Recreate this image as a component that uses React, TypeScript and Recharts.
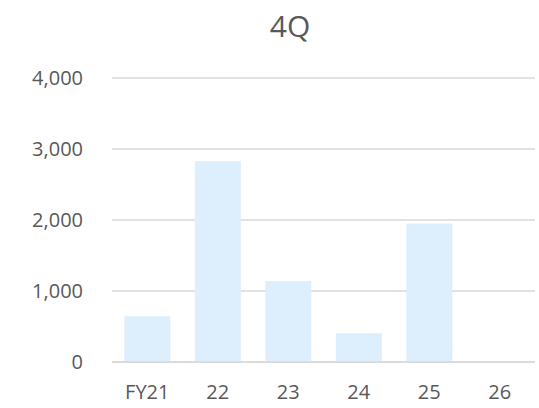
import React from "react";
import { BarChart, Bar, XAxis, YAxis, CartesianGrid } from "recharts";

const categories = ["FY21", "22", "23", "24", "25", "26"];
const values = [645, 2830, 1140, 405, 1950, 0];
const yTicks = [0, 1000, 2000, 3000, 4000];
const title = "4Q";

const data = categories.map((c, i) => ({ name: c, value: values[i] }));

const FONT = "'Open Sans', 'Noto Sans', sans-serif";
const TEXT = "#595959";

export default function App() {
  return (
    <div style={{ position: "absolute", left: 0, top: 0, width: 539, height: 408, background: "#fff" }}>
      <div
        style={{
          position: "absolute",
          left: 0,
          width: 580,
          top: 6,
          textAlign: "center",
          fontFamily: FONT,
          fontSize: 30,
          color: TEXT,
          lineHeight: "40px",
        }}
      >
        {title}
      </div>
      <BarChart
        width={539}
        height={408}
        data={data}
        margin={{ top: 78, right: 4, bottom: 16, left: 0 }}
        barCategoryGap="17.5%"
      >
        <CartesianGrid vertical={false} stroke="#d9d9d9" strokeWidth={1.3} />
        <XAxis
          dataKey="name"
          height={30}
          tickLine={false}
          axisLine={{ stroke: "#d9d9d9", strokeWidth: 1.3 }}
          tickSize={0}
          tickMargin={23}
          tick={{ fill: TEXT, fontSize: 20, fontFamily: FONT }}
          interval={0}
        />
        <YAxis
          width={112}
          domain={[0, 4000]}
          ticks={yTicks}
          tickLine={false}
          axisLine={false}
          tickSize={0}
          tickMargin={29}
          tickFormatter={(v: number) => v.toLocaleString("en-US")}
          tick={{ fill: TEXT, fontSize: 20, fontFamily: FONT }}
        />
        <Bar dataKey="value" fill="#DDEFFC" isAnimationActive={false} />
      </BarChart>
    </div>
  );
}
